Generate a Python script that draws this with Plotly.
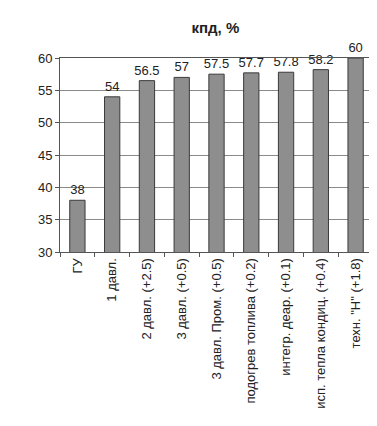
import plotly.graph_objects as go

categories = ["ГУ", "1 давл.", "2 давл. (+2.5)", "3 давл. (+0.5)", "3 давл. Пром. (+0.5)",
              "подогрев топлива (+0.2)", "интегр. деар. (+0.1)", "исп. тепла кондиц. (+0.4)",
              'техн. "Н" (+1.8)']
values = [38, 54, 56.5, 57, 57.5, 57.7, 57.8, 58.2, 60]
value_labels = ["38", "54", "56.5", "57", "57.5", "57.7", "57.8", "58.2", "60"]

fig = go.Figure(go.Bar(
    x=categories, y=values, text=value_labels, textposition="outside",
    textfont=dict(family="Arial, Liberation Sans", size=13, color="#222"),
    marker=dict(color="#8e8e8e", line=dict(color="#3a3a3a", width=1)),
    cliponaxis=False,
))

fig.update_layout(
    width=377, height=426,
    margin=dict(l=52, r=12, t=50, b=182),
    paper_bgcolor="white", plot_bgcolor="white",
    bargap=0.56,
    showlegend=False,
    uniformtext=dict(minsize=13, mode="show"),
    title=dict(text="<b>кпд, %</b>", x=0.55, xanchor="center", y=0.953, yanchor="middle",
               font=dict(family="Arial, Liberation Sans", size=15, color="#222")),
    font=dict(family="Arial, Liberation Sans", color="#222"),
)
fig.update_yaxes(range=[30, 60], dtick=5, showgrid=True, gridcolor="#8a8a8a", gridwidth=1,
                 showline=True, linecolor="#555", mirror=True, ticks="outside", ticklen=4,
                 tickcolor="#555", tickfont=dict(size=13), zeroline=False)
fig.update_xaxes(tickangle=-90, showline=True, linecolor="#555", mirror=True,
                 ticks="outside", tickson="boundaries", ticklen=4, tickcolor="#555",
                 tickfont=dict(size=13))

fig.write_html("out.html")
